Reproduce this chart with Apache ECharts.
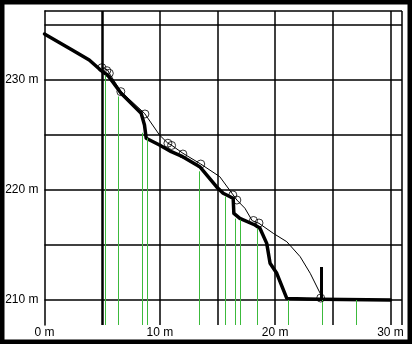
<!DOCTYPE html>
<html>
<head>
<meta charset="utf-8">
<script src="https://cdn.jsdelivr.net/npm/echarts@6/dist/echarts.min.js"></script>
<style>
html,body{margin:0;padding:0;background:#fff;}
#chart{width:412px;height:344px;}
</style>
</head>
<body>
<div id="chart"></div>
<script>
// Axis ranges and tick values
const X_MIN = 0, X_MAX = 31;
const Y_MIN = 207.73, Y_MAX = 236.27;
const xGridValues = [5, 10, 15, 20, 25, 30];
const yGridValues = [210, 215, 220, 225, 230, 235];
const xLabelValues = [0, 10, 20, 30];
const yLabelValues = [210, 220, 230];

// Thick profile (terrain)
const thickX = [0, 2.40, 3.88, 5.03, 5.47, 6.64, 8.38, 8.67, 8.82, 9.97, 10.99, 11.98, 13.46, 14.91, 15.49, 16.36, 16.42, 16.94, 18.25, 18.68, 19.27, 19.56, 20.14, 21.01, 22.75, 23.91, 30.0];
const thickY = [234.18, 232.73, 231.82, 230.75, 230.45, 228.79, 226.97, 225.9, 224.7, 224.09, 223.48, 223.03, 222.12, 220.3, 219.7, 219.25, 217.88, 217.43, 216.82, 216.52, 215.15, 213.34, 212.43, 210.15, 210.09, 210.06, 210.0];

// Thin profile
const thinX = [4.98, 5.47, 5.62, 6.64, 8.67, 9.97, 10.70, 10.99, 12.0, 13.55, 15.20, 16.36, 16.68, 17.38, 18.01, 18.60, 19.84, 21.01, 22.17, 23.04, 23.76, 24.06];
const thinY = [231.12, 230.91, 230.61, 228.94, 226.97, 225.0, 224.25, 224.09, 223.34, 222.36, 221.21, 219.55, 219.09, 218.34, 217.21, 216.97, 216.06, 215.30, 213.94, 212.43, 210.91, 210.3];

// Circle markers
const circleX = [4.98, 5.40, 5.62, 6.62, 8.71, 10.70, 11.02, 12.0, 13.55, 16.33, 16.68, 18.12, 18.60, 23.95];
const circleY = [231.12, 230.85, 230.61, 228.94, 226.91, 224.25, 224.05, 223.27, 222.36, 219.55, 219.09, 217.23, 217.0, 210.18];

// Green vertical lines (x, top value)
const greenX = [5.27, 6.43, 8.47, 8.87, 13.40, 15.64, 16.51, 16.99, 18.45, 21.15, 24.09, 27.02];
const greenTop = [230.5, 228.5, 225.2, 224.7, 221.7, 219.4, 217.4, 217.3, 216.5, 210.0, 210.0, 210.0];

// Post marker
const postX = [24.02, 24.02];
const postY = [210.0, 213.0];

const pairs = (xs, ys) => xs.map((x, i) => [x, ys[i]]);
const FONT = '"Liberation Sans", Arial, sans-serif';

const chart = echarts.init(document.getElementById('chart'), null, {renderer: 'canvas'});
chart.setOption({
  animation: false,
  backgroundColor: '#fff',
  grid: {left: 44.5, right: 10, top: 11, bottom: 19, containLabel: false},
  xAxis: {
    type: 'value', min: X_MIN, max: X_MAX,
    axisLine: {show: false}, axisTick: {show: false}, splitLine: {show: false},
    axisLabel: {customValues: xLabelValues, formatter: v => v + ' m', color: '#000',
      fontFamily: FONT, fontSize: 12, margin: 2}
  },
  yAxis: {
    type: 'value', min: Y_MIN, max: Y_MAX,
    axisLine: {show: true, lineStyle: {color: '#000', width: 1.5}},
    axisTick: {show: false}, splitLine: {show: false},
    axisLabel: {customValues: yLabelValues, formatter: v => v + ' m', color: '#000',
      fontFamily: FONT, fontSize: 12, margin: 6}
  },
  graphic: [{
    type: 'rect', z: 100, silent: true,
    shape: {x: 0, y: 0, width: 412, height: 344},
    style: {fill: 'none', stroke: '#000', lineWidth: 9}
  }],
  series: [
    {
      name: 'grid', type: 'scatter', data: [[X_MIN, Y_MIN]], symbolSize: 0, silent: true, z: 1,
      markLine: {
        silent: true, symbol: 'none', label: {show: false},
        lineStyle: {color: '#000', width: 1.5, type: 'solid'},
        data: [
          ...xGridValues.map(v => ({xAxis: v, lineStyle: {width: v === 5 ? 2.5 : 1.5}})),
          ...yGridValues.map(v => ({yAxis: v})),
          {yAxis: Y_MAX}, {xAxis: X_MAX}
        ]
      }
    },
    {
      name: 'green', type: 'scatter', data: [[X_MIN, Y_MIN]], symbolSize: 0, silent: true, z: 2,
      markLine: {
        silent: true, symbol: 'none', label: {show: false},
        lineStyle: {color: '#3cba3c', width: 1, type: 'solid'},
        data: greenX.map((x, i) => [{coord: [x, greenTop[i]]}, {coord: [x, Y_MIN]}])
      }
    },
    {
      name: 'thin', type: 'line', data: pairs(thinX, thinY), symbol: 'none', z: 3,
      lineStyle: {color: '#000', width: 1}
    },
    {
      name: 'thick', type: 'line', data: pairs(thickX, thickY), symbol: 'none', z: 4,
      lineStyle: {color: '#000', width: 3.5, join: 'round', cap: 'round'}
    },
    {
      name: 'circles', type: 'scatter', data: pairs(circleX, circleY), symbol: 'circle', symbolSize: 8, z: 5,
      itemStyle: {color: 'rgba(255,255,255,0)', borderColor: '#000', borderWidth: 1}
    },
    {
      name: 'post', type: 'line', data: pairs(postX, postY), symbol: 'none', z: 6,
      lineStyle: {color: '#000', width: 3}
    }
  ]
});
</script>
</body>
</html>
